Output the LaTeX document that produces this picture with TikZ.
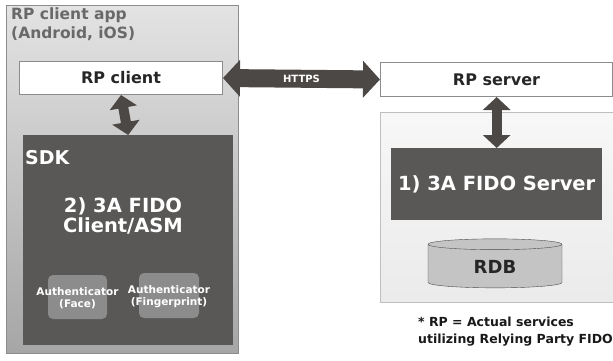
\documentclass[tikz,border=0pt]{standalone}
\usepackage{fontspec}
\setmainfont{DejaVu Sans}
\usepackage{tikz}
\usetikzlibrary{arrows.meta, shapes.geometric, positioning}
\definecolor{boxdark}{RGB}{89,88,87}
\definecolor{arrowdark}{RGB}{76,72,70}
\definecolor{authgray}{RGB}{140,140,140}
\definecolor{framegray}{RGB}{140,140,140}
\definecolor{labelgray}{RGB}{105,105,105}
\definecolor{panelgray}{RGB}{243,243,243}
\definecolor{dbgray}{RGB}{196,196,196}

\tikzset{
    whitebox/.style={draw=framegray, line width=1pt, fill=white, anchor=north west, font=\fontsize{16}{18}\selectfont\bfseries, text=black!85},
    darkbox/.style={fill=boxdark, anchor=north west, text=white},
    authbox/.style={fill=authgray, rounded corners=5pt, align=center, text=white, font=\fontsize{10.5}{12.5}\selectfont\bfseries},
    bigarrow/.style={draw=arrowdark, line width=10pt, {Triangle[length=13pt,width=27pt]}-{Triangle[length=13pt,width=27pt]}},
}

\begin{document}
\begin{tikzpicture}[x=1pt, y=-1pt]
    \useasboundingbox (0,0) rectangle (613,360);

    % left side: the app and its sdk
    \node[draw=framegray, line width=1pt, top color=black!11, bottom color=black!35, anchor=north west,
          minimum width=232pt, minimum height=348pt, inner sep=0pt] (app) at (6,5) {};
    \node[anchor=north west, align=left, text=labelgray, font=\fontsize{15.5}{19}\selectfont\bfseries, inner sep=0pt]
          (applabel) at (11,8) {RP client app\\(Android, iOS)};
    \node[whitebox, minimum width=203pt, minimum height=33pt] (client) at (19,61) {RP client};
    \node[darkbox, minimum width=210pt, minimum height=210pt] (sdk) at (23,135) {};
    \node[anchor=north west, text=white, font=\fontsize{19}{21}\selectfont\bfseries, inner sep=0pt] (sdklabel) at (25,150) {SDK};
    \node[align=center, text=white, font=\fontsize{19.5}{20}\selectfont\bfseries] (fidoclient) at (123,216) {2) 3A FIDO\\Client/ASM};
    \node[authbox, minimum width=59pt, minimum height=44pt] (face) at (77.5,297) {};
    \node[authbox, minimum width=60pt, minimum height=45pt] (finger) at (169,295.5) {};
    \node[authbox, fill=none] (facelabel) at ([yshift=-1pt]face.center) {Authenticator\\(Face)};
    \node[authbox, fill=none] (fingerlabel) at ([yshift=-1pt]finger.center) {Authenticator\\(Fingerprint)};

    % right side: the server and its services
    \node[whitebox, minimum width=232pt, minimum height=34pt] (server) at (380,62) {RP server};
    \node[draw=black!25, line width=1pt, top color=black!3, bottom color=black!8, anchor=north west,
          minimum width=234pt, minimum height=190pt] (services) at (380,112) {};
    \node[darkbox, minimum width=211pt, minimum height=72pt, font=\fontsize{19.5}{21}\selectfont\bfseries] (fidoserver) at (391,148) {1) 3A FIDO Server};
    \node[cylinder, shape border rotate=90, aspect=0.22, draw=black!70, fill=dbgray,
          minimum width=134pt, minimum height=49pt, font=\fontsize{18}{20}\selectfont\bfseries, text=black!85] (rdb) at (495,267) {RDB};

    \node[anchor=north west, align=left, font=\fontsize{12.5}{17}\selectfont\bfseries, text=black!90, inner sep=0pt]
          (note) at (418,317) {* RP = Actual services\\utilizing Relying Party FIDO};

    % connections
    \draw[bigarrow] (client.south) -- (sdk.north);
    \draw[bigarrow] (server.south -| fidoserver.north) -- (fidoserver.north);
    \draw[draw=arrowdark, line width=18pt, {Triangle[length=17pt,width=36pt]}-{Triangle[length=17pt,width=36pt]}]
        (client.east) -- node[text=white, font=\fontsize{10}{12}\selectfont\bfseries] {HTTPS} (server.west);
\end{tikzpicture}
\end{document}
